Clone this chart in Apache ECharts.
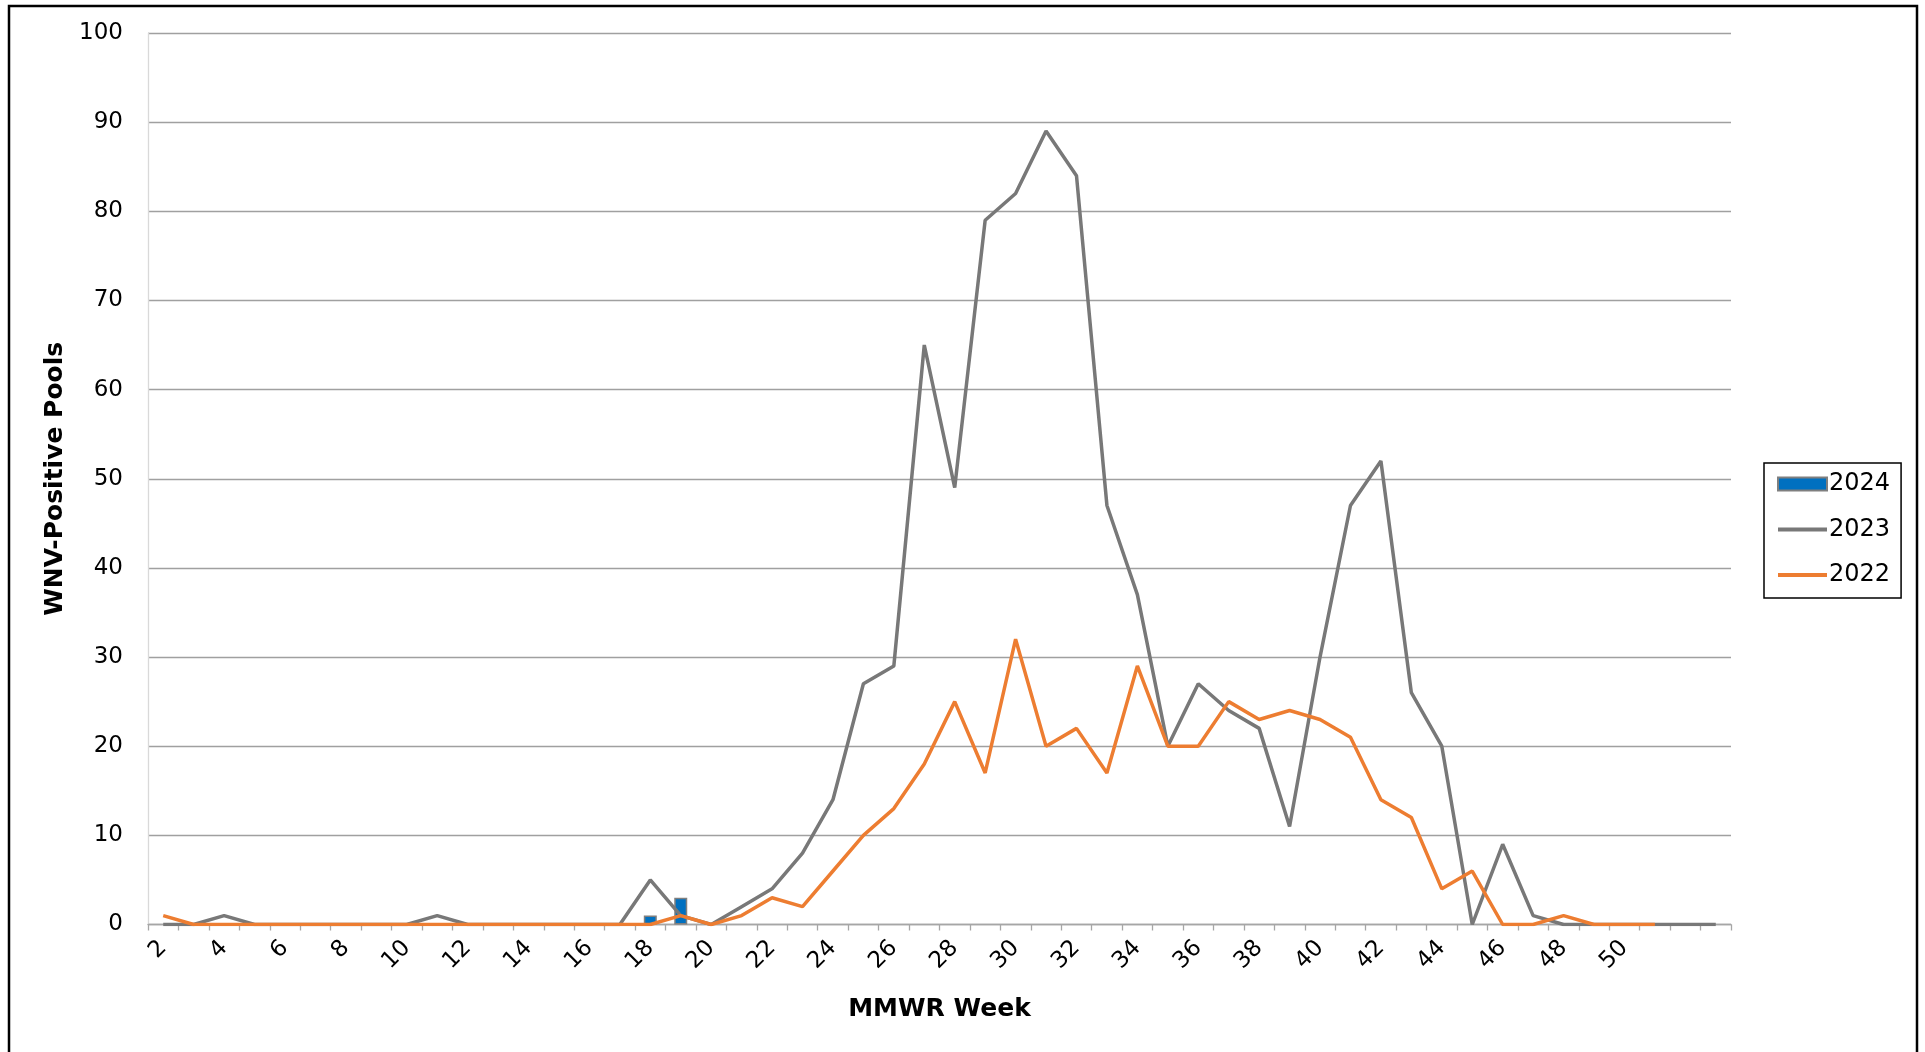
<!DOCTYPE html>
<html>
<head>
<meta charset="utf-8">
<title>WNV-Positive Pools by MMWR Week</title>
<script src="https://cdn.jsdelivr.net/npm/echarts/dist/echarts.min.js"></script>
<style>
  html, body {
    margin: 0;
    padding: 0;
    background: #fff;
  }
  #myChart {
    width: 1925px;
    height: 1052px;
  }
</style>
</head>
<body>
<div id="myChart"></div>
<script>
// MMWR weeks 2..53 (labels only shown up to 50)
const weeks = ['2', '3', '4', '5', '6', '7', '8', '9', '10', '11', '12', '13', '14', '15', '16', '17',
  '18', '19', '20', '21', '22', '23', '24', '25', '26', '27', '28', '29', '30', '31', '32', '33', '34',
  '35', '36', '37', '38', '39', '40', '41', '42', '43', '44', '45', '46', '47', '48', '49', '50', '51',
  '52', '53']

const pools2024 = [null, null, null, null, null, null, null, null, null, null, null, null, null, null, null, null,
  1, 3, null, null, null, null, null, null, null, null, null, null, null, null, null, null, null,
  null, null, null, null, null, null, null, null, null, null, null, null, null, null, null, null, null,
  null, null]

const pools2023 = [0, 0, 1, 0, 0, 0, 0, 0, 0, 1, 0, 0, 0, 0, 0, 0,
  5, 1, 0, 2, 4, 8, 14, 27, 29, 65, 49, 79, 82, 89, 84, 47, 37,
  20, 27, 24, 22, 11, 30, 47, 52, 26, 20, 0, 9, 1, 0, 0, 0, 0,
  0, 0]

const pools2022 = [1, 0, 0, 0, 0, 0, 0, 0, 0, 0, 0, 0, 0, 0, 0, 0,
  0, 1, 0, 1, 3, 2, 6, 10, 13, 18, 25, 17, 32, 20, 22, 17, 29,
  20, 20, 25, 23, 24, 23, 21, 14, 12, 4, 6, 0, 0, 1, 0, 0, 0,
  null, null]

const font = 'DejaVu Sans'

let option = {
  animation: false,
  backgroundColor: '#fff',
  grid: {
    left: 148,
    right: 194,
    top: 33,
    bottom: 127.5
  },
  legend: {
    orient: 'vertical',
    left: 1764,
    top: 463,
    padding: [9, 11, 11, 12],
    borderColor: '#000',
    borderWidth: 1.5,
    itemWidth: 49,
    itemHeight: 13,
    itemGap: 21.5,
    textStyle: {
      fontFamily: font,
      fontSize: 24,
      color: '#000',
      padding: [0, 0, 0, -3]
    },
    data: [
      { name: '2024', icon: 'rect' },
      // hide the marker dot that line series get in the legend
      { name: '2023', itemStyle: { opacity: 0 }, lineStyle: { width: 4 } },
      { name: '2022', itemStyle: { opacity: 0 }, lineStyle: { width: 4 } }
    ]
  },
  xAxis: {
    type: 'category',
    data: weeks,
    boundaryGap: true,
    name: 'MMWR Week',
    nameLocation: 'middle',
    nameGap: 72,
    nameTextStyle: {
      fontFamily: font,
      fontSize: 25,
      fontWeight: 'bold',
      color: '#000'
    },
    axisLine: {
      lineStyle: { color: '#a6a6a6', width: 1.3 }
    },
    axisTick: {
      show: true,
      interval: 0,
      length: 6,
      lineStyle: { color: '#a6a6a6', width: 1.3 }
    },
    axisLabel: {
      rotate: 45,
      margin: 20,
      fontFamily: font,
      fontSize: 23,
      color: '#000',
      interval: function (index, value) {
        return index % 2 === 0 && Number(value) <= 50
      }
    },
    splitLine: { show: false }
  },
  yAxis: {
    type: 'value',
    min: 0,
    max: 100,
    interval: 10,
    name: 'WNV-Positive Pools',
    nameLocation: 'middle',
    nameGap: 79,
    nameTextStyle: {
      fontFamily: font,
      fontSize: 25,
      fontWeight: 'bold',
      color: '#000'
    },
    axisLine: {
      show: true,
      lineStyle: { color: '#d9d9d9', width: 1.3 }
    },
    axisTick: { show: false },
    axisLabel: {
      margin: 25,
      fontFamily: font,
      fontSize: 23,
      color: '#000'
    },
    splitLine: {
      lineStyle: { color: '#a0a0a0', width: 1.3 }
    }
  },
  graphic: [{
    // outer frame of the figure (bottom edge falls off the page)
    type: 'rect',
    shape: { x: 9, y: 6, width: 1908, height: 1120 },
    style: { fill: null, stroke: '#000', lineWidth: 2.5 },
    silent: true
  }],
  series: [
    {
      name: '2024',
      type: 'bar',
      data: pools2024,
      barWidth: 13,
      itemStyle: {
        color: '#0070c0',
        borderColor: '#7f7f7f',
        borderWidth: 1.5
      }
    },
    {
      name: '2023',
      type: 'line',
      data: pools2023,
      symbol: 'none',
      lineStyle: { color: '#787878', width: 3.5 },
      itemStyle: { color: '#787878' }
    },
    {
      name: '2022',
      type: 'line',
      data: pools2022,
      symbol: 'none',
      lineStyle: { color: '#ed7d31', width: 3.5 },
      itemStyle: { color: '#ed7d31' }
    }
  ]
}

let myChart = echarts.init(document.getElementById('myChart'))
myChart.setOption(option)
</script>
</body>
</html>
